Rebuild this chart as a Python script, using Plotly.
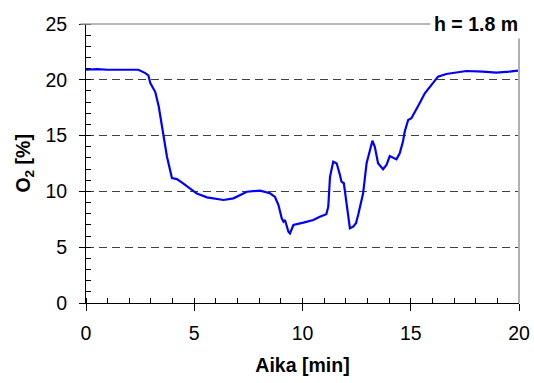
import plotly.graph_objects as go

time_min = [0.0, 0.5, 1.0, 1.5, 2.0, 2.42, 2.74, 2.88, 2.97, 3.2, 3.36, 3.56, 3.74, 3.97, 4.2, 4.5,
            5.12, 5.59, 6.35, 6.81, 7.43, 8.04, 8.5, 8.73, 8.89, 9.04, 9.12, 9.19, 9.35, 9.42,
            9.58, 10.04, 10.5, 10.8, 11.1, 11.19, 11.27, 11.42, 11.58, 11.73, 11.8, 11.91,
            12.04, 12.19, 12.34, 12.47, 12.57, 12.73, 12.8, 12.96, 13.11, 13.23, 13.34, 13.49,
            13.72, 13.88, 14.03, 14.18, 14.34, 14.49, 14.64, 14.72, 14.88, 15.03, 15.18, 15.41,
            15.65, 15.95, 16.26, 16.64, 17.1, 17.57, 18.33, 18.95, 19.56, 19.95]
o2_pct = [20.9, 20.95, 20.9, 20.9, 20.95, 20.9, 20.6, 20.4, 19.7, 18.9, 17.6, 15.2, 13.1, 11.2, 11.1, 10.7,
          9.8, 9.47, 9.23, 9.38, 9.97, 10.07, 9.83, 9.5, 8.78, 7.59, 7.29, 7.44, 6.39, 6.24,
          6.99, 7.2, 7.44, 7.73, 7.95, 8.63, 11.3, 12.66, 12.5, 11.47, 10.87, 10.73,
          8.93, 6.69, 6.84, 7.14, 7.89, 9.08, 9.83, 12.52, 13.56, 14.54, 14.0, 12.52,
          11.98, 12.37, 13.17, 13.05, 12.87, 13.41, 14.46, 15.35, 16.4, 16.55, 17.14, 17.9,
          18.79, 19.53, 20.28, 20.52, 20.64, 20.79, 20.73, 20.64, 20.73, 20.82]

x_ticks = [0, 5, 10, 15, 20]
y_ticks = [0, 5, 10, 15, 20, 25]

font = "Liberation Sans, Arial, sans-serif"

fig = go.Figure()
fig.add_trace(go.Scatter(x=time_min, y=o2_pct, mode="lines",
                         line=dict(color="#0000ff", width=2.2), showlegend=False))

fig.update_layout(
    width=534, height=383,
    margin=dict(l=86, r=15, t=24, b=80, autoexpand=False),
    paper_bgcolor="white", plot_bgcolor="white",
    font=dict(family=font, size=19.5, color="black"),
    xaxis=dict(range=[0, 20], tickvals=x_ticks, ticks="outside", ticklen=7, tickcolor="black",
               showline=True, linecolor="black", linewidth=1, showgrid=False, zeroline=False,
               automargin=False, ticklabelstandoff=6,
               minor=dict(ticks="inside", dtick=1, ticklen=5, tickcolor="black", showgrid=False),
               title=dict(text="<b>Aika [min]</b>", standoff=14, font=dict(size=19.5))),
    yaxis=dict(range=[0, 25], tickvals=y_ticks, ticks="outside", ticklen=6, tickcolor="black",
               showline=True, linecolor="black", linewidth=1, zeroline=False, automargin=False,
               showgrid=True, gridcolor="#404040", gridwidth=1, griddash="8px,5px",
               ticklabelstandoff=8,
               minor=dict(ticks="inside", dtick=1, ticklen=5, tickcolor="black", showgrid=False)),
    shapes=[
        dict(type="line", xref="paper", yref="paper", x0=-0.013, x1=1, y0=1, y1=1,
             line=dict(color="#a0a0a0", width=1.5), layer="above"),
        dict(type="line", xref="paper", yref="paper", x0=1, x1=1, y0=0, y1=1,
             line=dict(color="#b0b0b0", width=2), layer="above"),
    ],
    annotations=[
        dict(text="<b>h = 1.8 m</b>", xref="paper", yref="paper", x=1.008, y=1.0,
             xanchor="right", yanchor="middle", showarrow=False, bgcolor="white",
             font=dict(size=19.5, color="black"), borderpad=3),
        dict(text="<b>O<sub>2</sub> [%]</b>", xref="paper", yref="paper", x=-0.143, y=0.5,
             xanchor="center", yanchor="middle", textangle=-90, showarrow=False,
             font=dict(size=19.5, color="black")),
    ],
)

fig.write_html("out.html")
